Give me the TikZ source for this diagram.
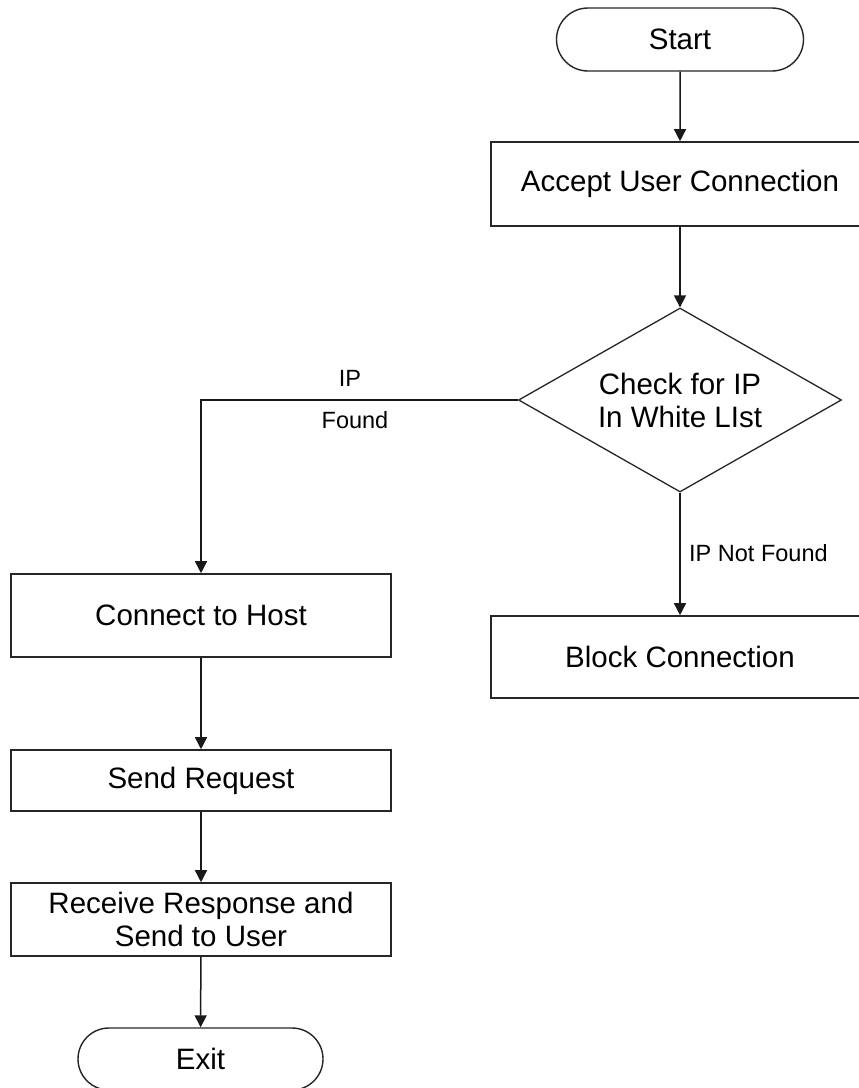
\documentclass[tikz,border=0pt]{standalone}
\usepackage{fontspec}
\setmainfont{Liberation Sans}
\usetikzlibrary{arrows.meta,shapes.geometric,shapes.misc}

\tikzset{
  boxtext/.style={font=\fontsize{29.5}{33}\selectfont, align=center},
  proc/.style={draw=black!85, line width=1.6pt, rectangle, boxtext, inner sep=0pt},
  term/.style={draw=black!85, line width=1.4pt, rounded rectangle, boxtext,
               minimum width=247pt, minimum height=63pt, inner sep=0pt},
  decide/.style={draw=black!85, line width=1.3pt, diamond, aspect=1.75, boxtext, inner sep=0pt,
                 minimum width=323pt, minimum height=184pt},
  flow/.style={draw=black!90, line width=1.5pt, -{Triangle[width=12pt,length=12pt]}},
  lbl/.style={font=\fontsize{23.5}{26}\selectfont, inner sep=0pt}
}

\begin{document}
\begin{tikzpicture}[x=1pt, y=-1pt]
  % page frame; boxes on the right run past the edge and are cut off
  \clip (0,0) rectangle (859,1088);
  \fill[white] (0,0) rectangle (859,1088);

  % right column
  \node[term] (start) at (680,39.5) {Start};
  \node[proc, minimum width=378pt, minimum height=84pt] (accept) at (680,184) {Accept User Connection};
  \node[decide] (check) at (680,400) {Check for IP\\In White LIst};
  \node[proc, minimum width=378pt, minimum height=82pt] (block) at (680,657) {Block Connection};

  % left column
  \node[proc, minimum width=380pt, minimum height=83pt] (connect) at (201,615.5) {Connect to Host};
  \node[proc, minimum width=380pt, minimum height=61pt] (send) at (201,780.5) {Send Request};
  \node[proc, minimum width=380pt, minimum height=73pt] (receive) at (201,919.5) {Receive Response and\\Send to User};
  \node[term, minimum width=245pt, minimum height=62pt] (exit) at (200.5,1059) {Exit};

  % connectors
  \draw[flow] (start) -- (accept);
  \draw[flow] (accept) -- (check);
  \draw[flow] (check.west) -| (connect.north);
  \draw[flow] (check.south) -- (block.north);
  \draw[flow] (connect) -- (send);
  \draw[flow] (send) -- (receive);
  \draw[flow] (receive) -- (exit);

  % branch labels
  \node[lbl] (ipyes) at (350,378) {IP};
  \node[lbl] (found) at (355,420) {Found};
  \node[lbl, anchor=west] (notfound) at (689,553) {IP Not Found};
\end{tikzpicture}
\end{document}
